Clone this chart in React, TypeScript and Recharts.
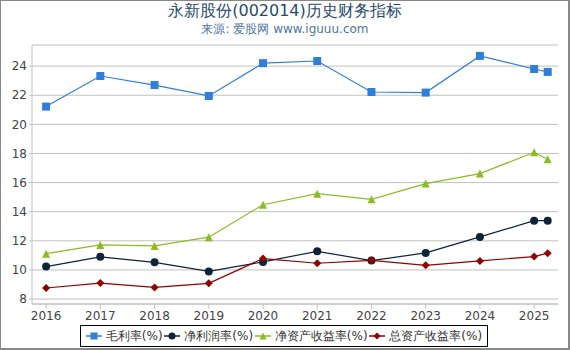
import React from 'react';
import { LineChart, Line, XAxis, YAxis, CartesianGrid } from 'recharts';

const years = [2016, 2017, 2018, 2019, 2020, 2021, 2022, 2023, 2024, 2025, 2025.25];
const yearTicks = [2016, 2017, 2018, 2019, 2020, 2021, 2022, 2023, 2024, 2025];
const valueTicks = [8, 10, 12, 14, 16, 18, 20, 22, 24];

const grossMargin = [21.22, 23.32, 22.7, 21.95, 24.2, 24.35, 22.22, 22.18, 24.7, 23.8, 23.6];
const netMargin = [10.23, 10.9, 10.52, 9.9, 10.55, 11.28, 10.64, 11.17, 12.27, 13.38, 13.38];
const roe = [11.12, 11.72, 11.65, 12.25, 14.48, 15.24, 14.85, 15.93, 16.62, 18.08, 17.6];
const roa = [8.76, 9.1, 8.8, 9.08, 10.78, 10.46, 10.66, 10.32, 10.62, 10.92, 11.15];

const seriesNames = ['毛利率(%)', '净利润率(%)', '净资产收益率(%)', '总资产收益率(%)'];
const colors = ['#2f7ed8', '#0d233a', '#8bbc21', '#910000'];
const shapes = ['square', 'circle', 'triangle', 'diamond'];

const FONT = '"DejaVu Sans", Verdana, sans-serif';

// 构建图表数据
const chartData = years.map((x, i) => ({
  x,
  gm: grossMargin[i],
  nm: netMargin[i],
  roe: roe[i],
  roa: roa[i],
}));

function Marker({ shape, color, cx, cy, size = 4 }: { shape: string; color: string; cx: number; cy: number; size?: number }) {
  if (shape === 'square') {
    return <rect x={cx - size} y={cy - size} width={size * 2} height={size * 2} fill={color} />;
  }
  if (shape === 'circle') {
    return <circle cx={cx} cy={cy} r={size} fill={color} />;
  }
  if (shape === 'triangle') {
    return (
      <path
        d={`M${cx},${cy - size} L${cx + size},${cy + size} L${cx - size},${cy + size} Z`}
        fill={color}
      />
    );
  }
  return (
    <path
      d={`M${cx},${cy - size} L${cx + size},${cy} L${cx},${cy + size} L${cx - size},${cy} Z`}
      fill={color}
    />
  );
}

const makeDot = (idx: number) => (props: any) => {
  const { cx, cy, index } = props;
  if (cx == null || cy == null) return <g key={`e-${idx}-${index}`} />;
  return (
    <g key={`d-${idx}-${index}`}>
      <Marker shape={shapes[idx]} color={colors[idx]} cx={cx} cy={cy} />
    </g>
  );
};

const keys = ['gm', 'nm', 'roe', 'roa'];

export default function App() {
  return (
    <div
      style={{
        position: 'relative',
        width: 570,
        height: 350,
        boxSizing: 'border-box',
        borderTop: '1px solid #888',
        borderLeft: '1px solid #888',
        borderRight: '2px solid #888',
        borderBottom: '2px solid #888',
        fontFamily: FONT,
        background: '#fff',
      }}
    >
      <style>{`body{margin:0}`}</style>
      <div
        style={{
          position: 'absolute',
          top: 0,
          left: 0,
          width: 568,
          textAlign: 'center',
          fontSize: 16,
          color: '#274b6d',
          lineHeight: '20px',
        }}
      >
        永新股份(002014)历史财务指标
      </div>
      <div
        style={{
          position: 'absolute',
          top: 20,
          left: 0,
          width: 568,
          textAlign: 'center',
          fontSize: 12,
          color: '#4d759e',
          lineHeight: '16px',
        }}
      >
        来源: 爱股网 www.iguuu.com
      </div>
      <div style={{ position: 'absolute', top: -1, left: -1 }}>
        <LineChart
          width={570}
          height={350}
          data={chartData}
          margin={{ top: 45, right: 12, left: 0, bottom: 26 }}
        >
          <CartesianGrid horizontal vertical={false} stroke="#c0c0c0" />
          <XAxis
            type="number"
            dataKey="x"
            domain={[2015.74, 2025.44]}
            ticks={yearTicks}
            allowDataOverflow
            height={20}
            stroke="#c0c0c0"
            tickSize={5}
            tick={{ fill: '#444', fontSize: 12, fontFamily: FONT }}
          />
          <YAxis
            type="number"
            domain={[7.66, 25.45]}
            ticks={valueTicks}
            allowDataOverflow
            width={32}
            stroke="#c0c0c0"
            tickSize={3}
            tick={{ fill: '#444', fontSize: 12, fontFamily: FONT }}
          />
          {keys.map((k, i) => (
            <Line
              key={k}
              type="linear"
              dataKey={k}
              stroke={colors[i]}
              strokeWidth={1.2}
              dot={makeDot(i)}
              activeDot={false}
              isAnimationActive={false}
            />
          ))}
        </LineChart>
      </div>
      <div
        style={{
          position: 'absolute',
          left: 79,
          top: 324,
          width: 408,
          height: 22,
          boxSizing: 'border-box',
          border: '1px solid #000',
          display: 'flex',
          alignItems: 'center',
          justifyContent: 'space-around',
          fontSize: 12,
          color: '#333',
          padding: '0 4px',
        }}
      >
        {seriesNames.map((name, i) => (
          <div key={name} style={{ display: 'flex', alignItems: 'center' }}>
            <svg width={16} height={10} style={{ marginRight: 4 }}>
              <line x1={0} y1={5} x2={16} y2={5} stroke={colors[i]} strokeWidth={1.5} />
              <Marker shape={shapes[i]} color={colors[i]} cx={8} cy={5} size={3.5} />
            </svg>
            <span>{name}</span>
          </div>
        ))}
      </div>
    </div>
  );
}
